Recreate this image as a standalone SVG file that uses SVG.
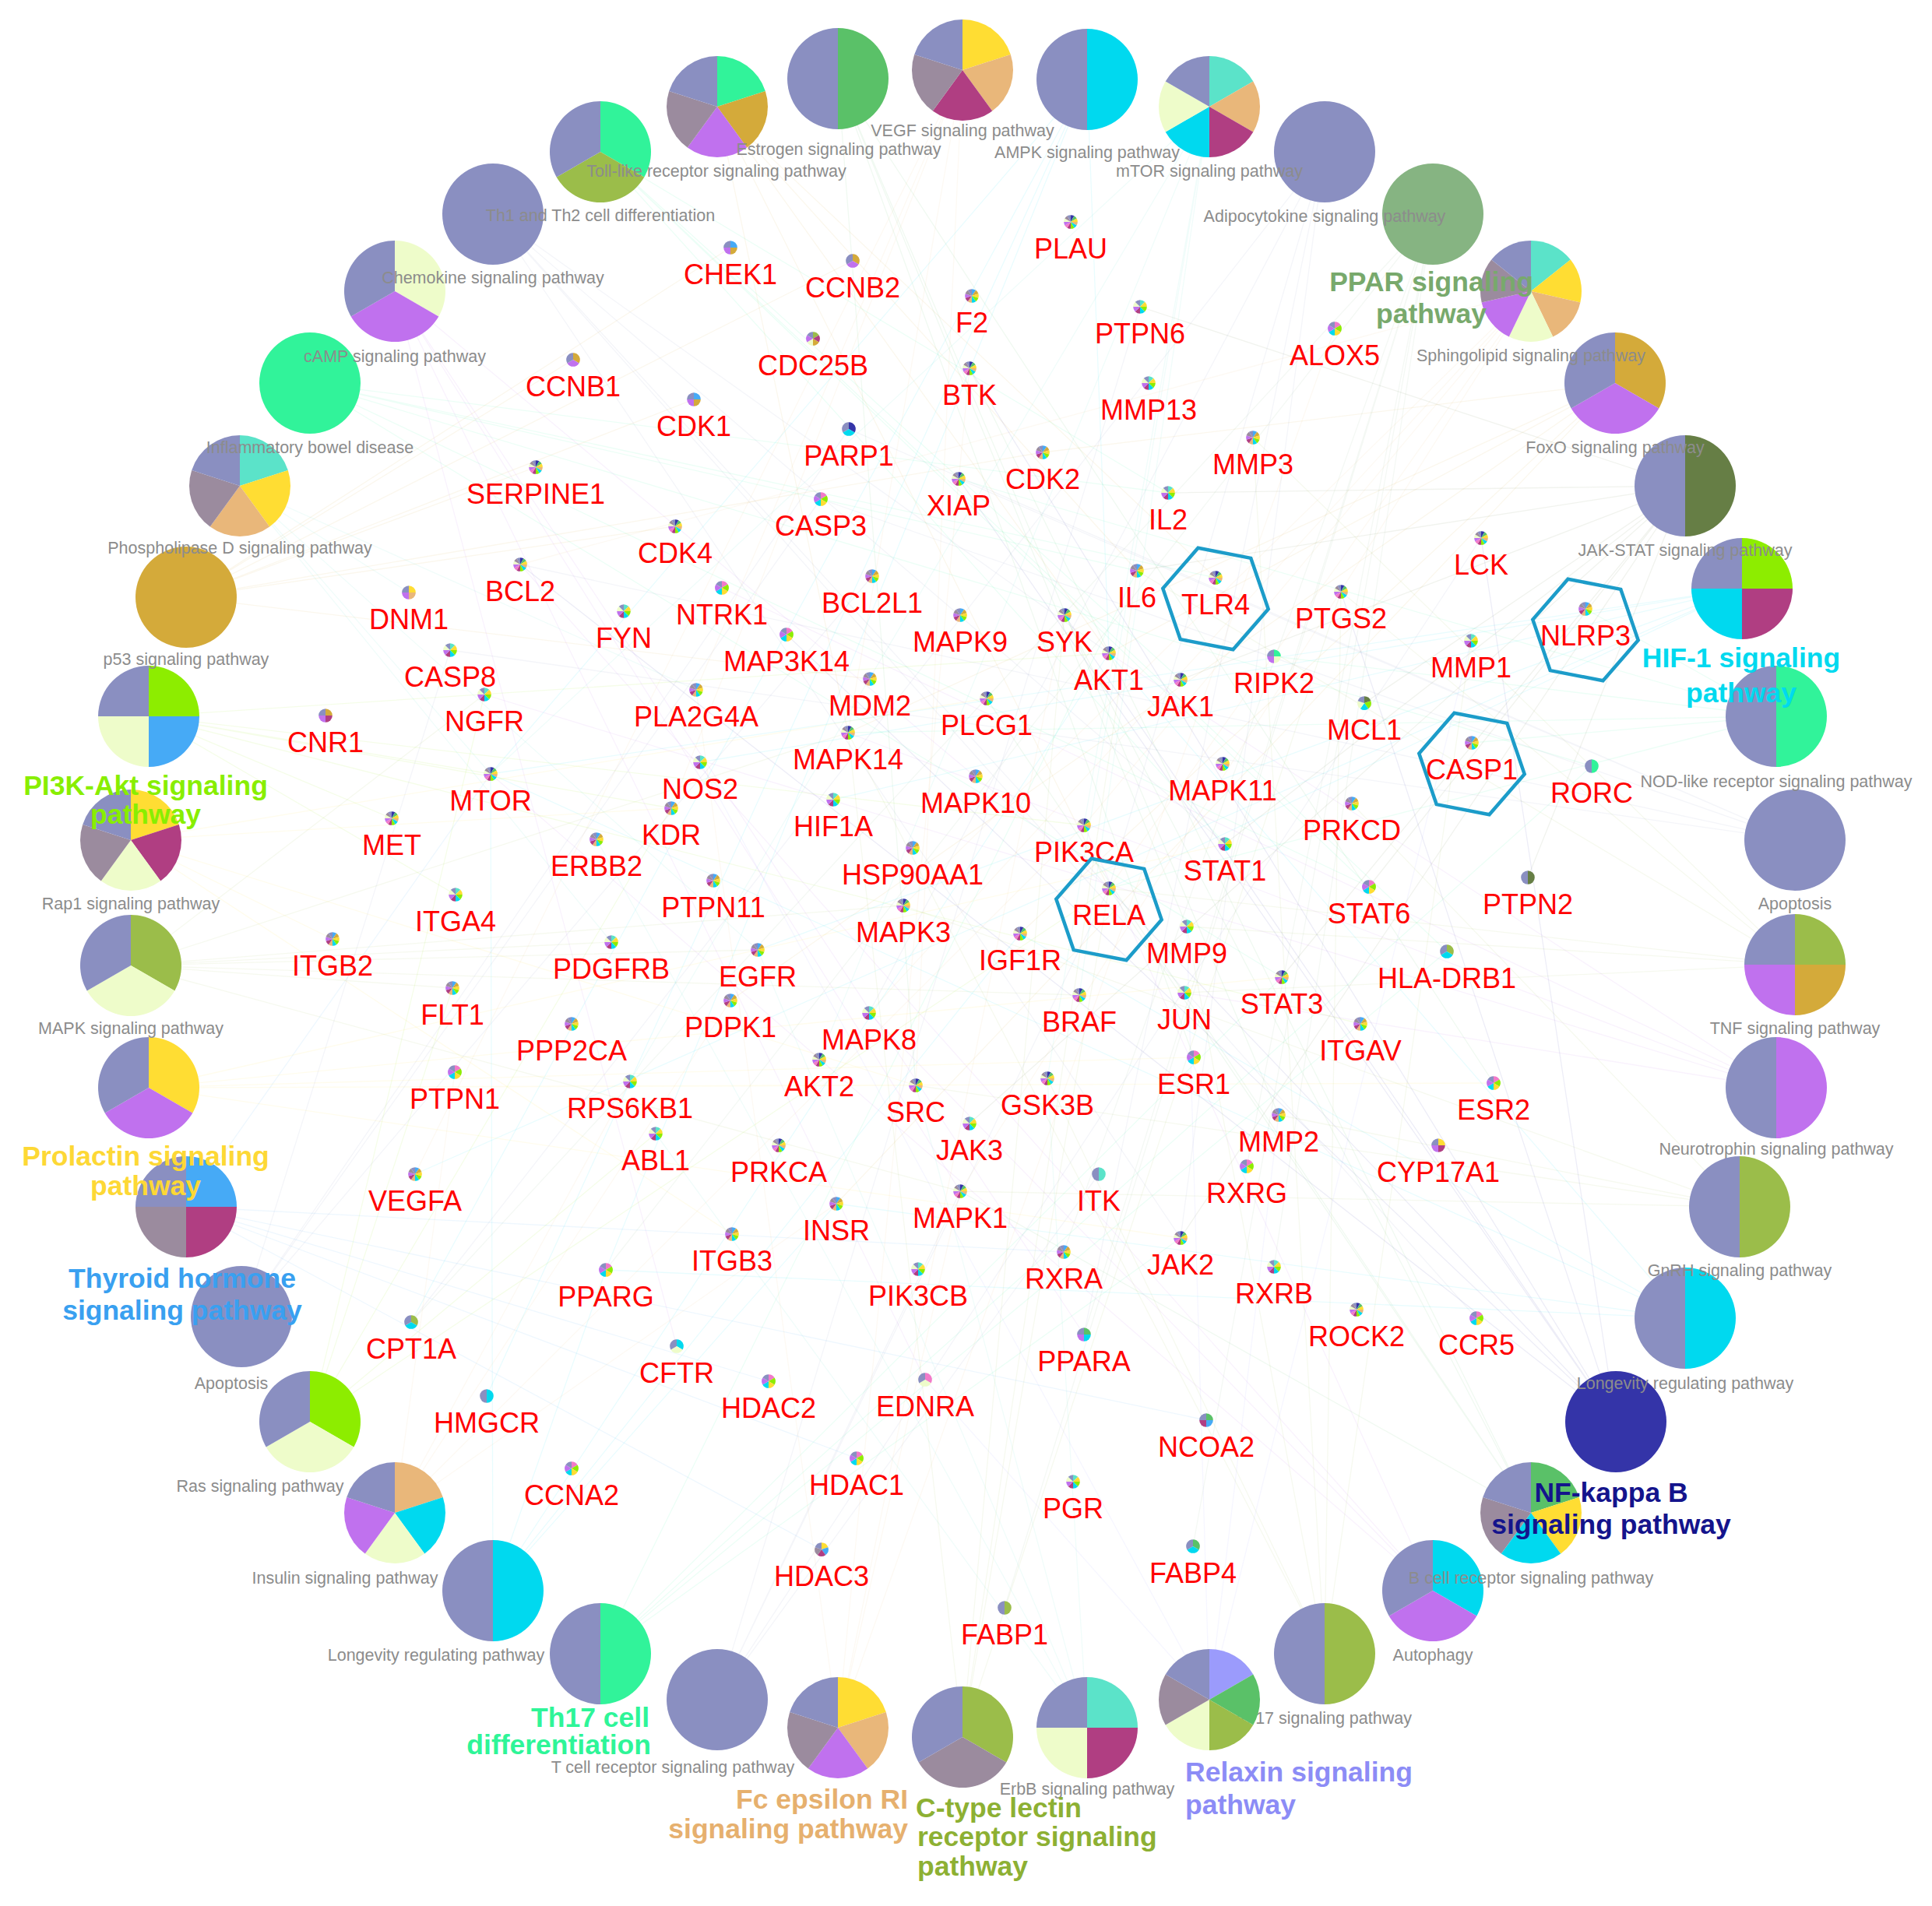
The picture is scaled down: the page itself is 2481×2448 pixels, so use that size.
<svg xmlns="http://www.w3.org/2000/svg" width="2481" height="2448" viewBox="0 0 2481 2448">
<style>
.B{fill:#8a8fc1}.G{fill:#31f39a}.Go{fill:#d4aa3a}.Pu{fill:#c071ee}.Mv{fill:#9b8b9e}.Ye{fill:#ffdd33}.Ta{fill:#e9b77a}.Mg{fill:#b03e82}.Ly{fill:#eefcca}.Te{fill:#5be3c9}.Cy{fill:#00d9ef}.Li{fill:#8ded00}.Ol{fill:#9bbd4a}.Do{fill:#667e45}.Lb{fill:#46aaf6}.Nv{fill:#3434a8}.Pg{fill:#86b482}.Gn{fill:#5ac168}.Lv{fill:#9b9bfc}.Pk{fill:#f27ac9}
.e{fill:none;stroke-width:1.3;stroke-opacity:.09}
.gl{font-family:"Liberation Sans",Arial,sans-serif;font-size:36px;fill:#ff0000;text-anchor:middle}
.pl{font-family:"Liberation Sans",Arial,sans-serif;font-size:21.5px;fill:#8c8c8c;text-anchor:middle}
.bl{font-family:"Liberation Sans",Arial,sans-serif;font-size:35.5px;font-weight:bold}
.hx{fill:none;stroke:#1c9cc9;stroke-width:4.5}
</style>
<defs>
<path id="s2_0" d="M0 0V-65A65 65 0 0 1 0 65Z"/>
<path id="s2_1" d="M0 0V65A65 65 0 0 1 0 -65Z"/>
<path id="s3_0" d="M0 0V-65A65 65 0 0 1 56.29 32.5Z"/>
<path id="s3_1" d="M0 0L56.29 32.5A65 65 0 0 1 -56.29 32.5Z"/>
<path id="s3_2" d="M0 0L-56.29 32.5A65 65 0 0 1 0 -65Z"/>
<path id="s4_0" d="M0 0V-65A65 65 0 0 1 65 0Z"/>
<path id="s4_1" d="M0 0H65A65 65 0 0 1 0 65Z"/>
<path id="s4_2" d="M0 0V65A65 65 0 0 1 -65 0Z"/>
<path id="s4_3" d="M0 0H-65A65 65 0 0 1 0 -65Z"/>
<path id="s5_0" d="M0 0V-65A65 65 0 0 1 61.82 -20.09Z"/>
<path id="s5_1" d="M0 0L61.82 -20.09A65 65 0 0 1 38.21 52.59Z"/>
<path id="s5_2" d="M0 0L38.21 52.59A65 65 0 0 1 -38.21 52.59Z"/>
<path id="s5_3" d="M0 0L-38.21 52.59A65 65 0 0 1 -61.82 -20.09Z"/>
<path id="s5_4" d="M0 0L-61.82 -20.09A65 65 0 0 1 0 -65Z"/>
<path id="s6_0" d="M0 0V-65A65 65 0 0 1 56.29 -32.5Z"/>
<path id="s6_1" d="M0 0L56.29 -32.5A65 65 0 0 1 56.29 32.5Z"/>
<path id="s6_2" d="M0 0L56.29 32.5A65 65 0 0 1 0 65Z"/>
<path id="s6_3" d="M0 0V65A65 65 0 0 1 -56.29 32.5Z"/>
<path id="s6_4" d="M0 0L-56.29 32.5A65 65 0 0 1 -56.29 -32.5Z"/>
<path id="s6_5" d="M0 0L-56.29 -32.5A65 65 0 0 1 0 -65Z"/>
<path id="s7_0" d="M0 0V-65A65 65 0 0 1 50.82 -40.53Z"/>
<path id="s7_1" d="M0 0L50.82 -40.53A65 65 0 0 1 63.37 14.46Z"/>
<path id="s7_2" d="M0 0L63.37 14.46A65 65 0 0 1 28.2 58.56Z"/>
<path id="s7_3" d="M0 0L28.2 58.56A65 65 0 0 1 -28.2 58.56Z"/>
<path id="s7_4" d="M0 0L-28.2 58.56A65 65 0 0 1 -63.37 14.46Z"/>
<path id="s7_5" d="M0 0L-63.37 14.46A65 65 0 0 1 -50.82 -40.53Z"/>
<path id="s7_6" d="M0 0L-50.82 -40.53A65 65 0 0 1 0 -65Z"/>
<path id="s8_0" d="M0 0V-65A65 65 0 0 1 45.96 -45.96Z"/>
<path id="s8_1" d="M0 0L45.96 -45.96A65 65 0 0 1 65 0Z"/>
<path id="s8_2" d="M0 0H65A65 65 0 0 1 45.96 45.96Z"/>
<path id="s8_3" d="M0 0L45.96 45.96A65 65 0 0 1 0 65Z"/>
<path id="s8_4" d="M0 0V65A65 65 0 0 1 -45.96 45.96Z"/>
<path id="s8_5" d="M0 0L-45.96 45.96A65 65 0 0 1 -65 0Z"/>
<path id="s8_6" d="M0 0H-65A65 65 0 0 1 -45.96 -45.96Z"/>
<path id="s8_7" d="M0 0L-45.96 -45.96A65 65 0 0 1 0 -65Z"/>
<path id="s10_0" d="M0 0V-65A65 65 0 0 1 38.21 -52.59Z"/>
<path id="s10_1" d="M0 0L38.21 -52.59A65 65 0 0 1 61.82 -20.09Z"/>
<path id="s10_2" d="M0 0L61.82 -20.09A65 65 0 0 1 61.82 20.09Z"/>
<path id="s10_3" d="M0 0L61.82 20.09A65 65 0 0 1 38.21 52.59Z"/>
<path id="s10_4" d="M0 0L38.21 52.59A65 65 0 0 1 0 65Z"/>
<path id="s10_5" d="M0 0V65A65 65 0 0 1 -38.21 52.59Z"/>
<path id="s10_6" d="M0 0L-38.21 52.59A65 65 0 0 1 -61.82 20.09Z"/>
<path id="s10_7" d="M0 0L-61.82 20.09A65 65 0 0 1 -61.82 -20.09Z"/>
<path id="s10_8" d="M0 0L-61.82 -20.09A65 65 0 0 1 -38.21 -52.59Z"/>
<path id="s10_9" d="M0 0L-38.21 -52.59A65 65 0 0 1 0 -65Z"/>
<path id="s12_0" d="M0 0V-65A65 65 0 0 1 32.5 -56.29Z"/>
<path id="s12_1" d="M0 0L32.5 -56.29A65 65 0 0 1 56.29 -32.5Z"/>
<path id="s12_2" d="M0 0L56.29 -32.5A65 65 0 0 1 65 0Z"/>
<path id="s12_3" d="M0 0H65A65 65 0 0 1 56.29 32.5Z"/>
<path id="s12_4" d="M0 0L56.29 32.5A65 65 0 0 1 32.5 56.29Z"/>
<path id="s12_5" d="M0 0L32.5 56.29A65 65 0 0 1 0 65Z"/>
<path id="s12_6" d="M0 0V65A65 65 0 0 1 -32.5 56.29Z"/>
<path id="s12_7" d="M0 0L-32.5 56.29A65 65 0 0 1 -56.29 32.5Z"/>
<path id="s12_8" d="M0 0L-56.29 32.5A65 65 0 0 1 -65 0Z"/>
<path id="s12_9" d="M0 0H-65A65 65 0 0 1 -56.29 -32.5Z"/>
<path id="s12_10" d="M0 0L-56.29 -32.5A65 65 0 0 1 -32.5 -56.29Z"/>
<path id="s12_11" d="M0 0L-32.5 -56.29A65 65 0 0 1 0 -65Z"/>
<polygon id="hex" points="67.7,13.2 22.5,65.2 -45.3,52.1 -67.7,-13.2 -22.5,-65.2 45.3,-52.1"/>
<g id="mA" transform="scale(.136)"><use href="#s10_0" class="Lb"/><use href="#s10_1" class="Go"/><use href="#s10_2" class="Ye"/><use href="#s10_3" class="Li"/><use href="#s10_4" class="Cy"/><use href="#s10_5" class="Ta"/><use href="#s10_6" class="Mg"/><use href="#s10_7" class="Pu"/><use href="#s10_8" class="Mv"/><use href="#s10_9" class="B"/></g>
<g id="mB" transform="scale(.136)"><use href="#s8_0" class="Te"/><use href="#s8_1" class="Ye"/><use href="#s8_2" class="Li"/><use href="#s8_3" class="Cy"/><use href="#s8_4" class="Mg"/><use href="#s8_5" class="Pu"/><use href="#s8_6" class="Ly"/><use href="#s8_7" class="B"/></g>
<g id="mC" transform="scale(.136)"><use href="#s12_0" class="Nv"/><use href="#s12_1" class="Gn"/><use href="#s12_2" class="Ye"/><use href="#s12_3" class="Ta"/><use href="#s12_4" class="Cy"/><use href="#s12_5" class="Li"/><use href="#s12_6" class="Mg"/><use href="#s12_7" class="Pk"/><use href="#s12_8" class="Pu"/><use href="#s12_9" class="Ly"/><use href="#s12_10" class="Mv"/><use href="#s12_11" class="B"/></g>
<g id="mD" transform="scale(.136)"><use href="#s6_0" class="Pk"/><use href="#s6_1" class="Li"/><use href="#s6_2" class="Ye"/><use href="#s6_3" class="Cy"/><use href="#s6_4" class="Pu"/><use href="#s6_5" class="B"/></g>
<g id="m4a" transform="scale(.136)"><use href="#s4_0" class="Lb"/><use href="#s4_1" class="Go"/><use href="#s4_2" class="Pu"/><use href="#s4_3" class="B"/></g>
<g id="m3a" transform="scale(.136)"><use href="#s3_0" class="Go"/><use href="#s3_1" class="Pu"/><use href="#s3_2" class="B"/></g>
<g id="m3n" transform="scale(.136)"><use href="#s3_0" class="Nv"/><use href="#s3_1" class="Cy"/><use href="#s3_2" class="B"/></g>
<g id="m2d" transform="scale(.136)"><use href="#s2_0" class="Do"/><use href="#s2_1" class="B"/></g>
<g id="m2g" transform="scale(.136)"><use href="#s2_0" class="G"/><use href="#s2_1" class="B"/></g>
<g id="m2t" transform="scale(.136)"><use href="#s2_0" class="Te"/><use href="#s2_1" class="B"/></g>
<g id="m2c" transform="scale(.136)"><use href="#s2_0" class="Cy"/><use href="#s2_1" class="B"/></g>
<g id="m2o" transform="scale(.136)"><use href="#s2_0" class="Ol"/><use href="#s2_1" class="B"/></g>
<g id="m3c" transform="scale(.136)"><use href="#s3_0" class="Ol"/><use href="#s3_1" class="Cy"/><use href="#s3_2" class="B"/></g>
<g id="m3f" transform="scale(.136)"><use href="#s3_0" class="Cy"/><use href="#s3_1" class="Ly"/><use href="#s3_2" class="B"/></g>
<g id="m3g" transform="scale(.136)"><use href="#s3_0" class="Gn"/><use href="#s3_1" class="Cy"/><use href="#s3_2" class="B"/></g>
<g id="m3e" transform="scale(.136)"><use href="#s3_0" class="Pk"/><use href="#s3_1" class="Ly"/><use href="#s3_2" class="B"/></g>
<g id="m4d" transform="scale(.136)"><use href="#s4_0" class="Ye"/><use href="#s4_1" class="Ta"/><use href="#s4_2" class="Pu"/><use href="#s4_3" class="B"/></g>
<g id="m4r" transform="scale(.136)"><use href="#s4_0" class="G"/><use href="#s4_1" class="Ly"/><use href="#s4_2" class="Pu"/><use href="#s4_3" class="B"/></g>
<g id="m4y" transform="scale(.136)"><use href="#s4_0" class="Ye"/><use href="#s4_1" class="Mg"/><use href="#s4_2" class="Pu"/><use href="#s4_3" class="B"/></g>
<g id="m4n" transform="scale(.136)"><use href="#s4_0" class="Go"/><use href="#s4_1" class="Mg"/><use href="#s4_2" class="Pu"/><use href="#s4_3" class="B"/></g>
<g id="mP" transform="scale(.136)"><use href="#s4_0" class="Gn"/><use href="#s4_1" class="Cy"/><use href="#s4_2" class="Pu"/><use href="#s4_3" class="B"/></g>
<g id="mQ" transform="scale(.136)"><use href="#s4_0" class="Gn"/><use href="#s4_1" class="Lb"/><use href="#s4_2" class="Mg"/><use href="#s4_3" class="B"/></g>
<g id="m5m" transform="scale(.136)"><use href="#s5_0" class="Do"/><use href="#s5_1" class="Li"/><use href="#s5_2" class="Cy"/><use href="#s5_3" class="Ly"/><use href="#s5_4" class="B"/></g>
<g id="mH" transform="scale(.136)"><use href="#s5_0" class="Ye"/><use href="#s5_1" class="Lb"/><use href="#s5_2" class="Mg"/><use href="#s5_3" class="Mv"/><use href="#s5_4" class="B"/></g>
<g id="m6c" transform="scale(.136)"><use href="#s6_0" class="Ol"/><use href="#s6_1" class="Mg"/><use href="#s6_2" class="Go"/><use href="#s6_3" class="Ly"/><use href="#s6_4" class="Pu"/><use href="#s6_5" class="B"/></g>
</defs>
<rect width="2481" height="2448" fill="#ffffff"/>
<g id="connectors">
<path class="e" stroke="#8a8fc1" d="M633 275L1424 839M633 275L1424 1141M633 275L1516 1590M633 275L1896 1693M633 275L1573 1084"/>
<path class="e" stroke="#31f39a" d="M771 195L1516 873M771 195L1573 1084M771 195L1500 633M771 195L1858 1222M771 195L1758 1139"/>
<path class="e" stroke="#d4aa3a" d="M921 137L1561 742M921 137L1460 733M921 137L1424 1141M921 137L1089 941M921 137L1424 839"/>
<path class="e" stroke="#5ac168" d="M1076 101L1533 1358M1076 101L1918 1391M1076 101L1176 1394M1076 101L1642 1432M1076 101L1524 1190"/>
<path class="e" stroke="#e9b77a" d="M1236 90L533 1508M1236 90L862 1038M1236 90L894 886M1236 90L1176 1394M1236 90L1089 941"/>
<path class="e" stroke="#00d9ef" d="M1396 102L630 994M1396 102L778 1631M1396 102L528 1698M1396 102L625 1793M1396 102L1424 839"/>
<path class="e" stroke="#5be3c9" d="M1553 137L630 994M1553 137L809 1389M1553 137L1386 1278M1553 137L1392 1060M1553 137L1052 1361M1553 137L1345 1385"/>
<path class="e" stroke="#8a8fc1" d="M1701 195L1392 1714M1701 195L528 1698M1701 195L1516 1590M1701 195L1424 1141M1701 195L1116 1301"/>
<path class="e" stroke="#86b482" d="M1840 275L778 1631M1840 275L1392 1714M1840 275L1366 1608M1840 275L1636 1627M1840 275L1601 1498M1840 275L1290 2065M1840 275L1532 1986M1840 275L528 1698"/>
<path class="e" stroke="#e9b77a" d="M1966 374L1160 1163M1966 374L1233 1530M1966 374L1392 1060M1966 374L1424 1141M1966 374L668 725M1966 374L1116 1301"/>
<path class="e" stroke="#d4aa3a" d="M2074 492L1424 839M2074 492L1339 581M2074 492L1089 941M2074 492L938 1285M2074 492L1310 1199M2074 492L1074 1546"/>
<path class="e" stroke="#667e45" d="M2164 624L1516 873M2164 624L1516 1590M2164 624L1245 1443M2164 624L1573 1084M2164 624L1646 1255M2164 624L1758 1139M2164 624L1460 733M2164 624L1500 633M2164 624L1962 1127M2164 624L1464 394M2164 624L1752 903"/>
<path class="e" stroke="#00d9ef" d="M2237 756L1070 1027M2237 756L533 1508M2237 756L973 1220M2237 756L630 994M2237 756L1424 1141M2237 756L899 979"/>
<path class="e" stroke="#31f39a" d="M2281 920L2036 782M2281 920L1890 954M2281 920L1636 843M2281 920L1424 1141M2281 920L1231 615M2281 920L1089 941"/>
<path class="e" stroke="#8a8fc1" d="M2305 1079L1054 641M2305 1079L578 835M2305 1079L668 725M2305 1079L1231 615M2305 1079L1090 551"/>
<path class="e" stroke="#9bbd4a" d="M2305 1239L1722 760M2305 1239L1524 1190M2305 1239L1609 562M2305 1239L1424 1141M2305 1239L1521 1275M2305 1239L1460 733"/>
<path class="e" stroke="#c071ee" d="M2281 1397L622 892M2281 1397L927 755M2281 1397L1089 941M2281 1397L1424 839M2281 1397L1521 1275"/>
<path class="e" stroke="#9bbd4a" d="M2234 1550L1176 1394M2234 1550L1642 1432M2234 1550L1160 1163M2234 1550L1736 1032M2234 1550L1233 1530"/>
<path class="e" stroke="#00d9ef" d="M2164 1693L1424 839M2164 1693L630 994M2164 1693L1310 1199M2164 1693L1074 1546M2164 1693L778 1631"/>
<path class="e" stroke="#3434a8" d="M2075 1826L1424 1141M2075 1826L668 725M2075 1826L1722 760M2075 1826L1231 615M2075 1826L1902 691M2075 1826L1367 790M2075 1826L1245 473M2075 1826L1010 815"/>
<path class="e" stroke="#5ac168" d="M1966 1943L1245 473M1966 1943L1367 790M1966 1943L1424 1141M1966 1943L1233 1530M1966 1943L1267 897"/>
<path class="e" stroke="#c071ee" d="M1840 2043L630 994M1840 2043L668 725M1840 2043L1392 1060M1840 2043L1116 1301"/>
<path class="e" stroke="#9bbd4a" d="M1701 2124L1609 562M1701 2124L1889 823M1701 2124L1524 1190M1701 2124L1722 760M1701 2124L1345 1385M1701 2124L1089 941"/>
<path class="e" stroke="#9b9bfc" d="M1553 2183L1889 823M1553 2183L1642 1432M1553 2183L1524 1190M1553 2183L899 979M1553 2183L1188 1772"/>
<path class="e" stroke="#5be3c9" d="M1396 2219L766 1078M1396 2219L973 1220M1396 2219L1176 1394M1396 2219L842 1456M1396 2219L1345 1385"/>
<path class="e" stroke="#9bbd4a" d="M1236 2231L1367 790M1236 2231L1424 1141M1236 2231L1460 733M1236 2231L1722 760M1236 2231L1089 941"/>
<path class="e" stroke="#e9b77a" d="M1076 2219L1367 790M1076 2219L1245 473M1076 2219L894 886M1076 2219L1714 422M1076 2219L1233 1530"/>
<path class="e" stroke="#8a8fc1" d="M921 2183L1902 691M921 2183L1411 1508M921 2183L1233 1530M921 2183L1424 1141M921 2183L1464 394"/>
<path class="e" stroke="#31f39a" d="M771 2124L2044 984M771 2124L1516 1590M771 2124L1646 1255M771 2124L1460 733M771 2124L1858 1222"/>
<path class="e" stroke="#00d9ef" d="M633 2043L630 994M633 2043L1310 1199M633 2043L1074 1546M633 2043L1424 839M633 2043L778 1631"/>
<path class="e" stroke="#e9b77a" d="M507 1943L1074 1546M507 1943L584 1377M507 1943L938 1285M507 1943L809 1389M507 1943L1392 1060"/>
<path class="e" stroke="#8ded00" d="M398 1826L862 1038M398 1826L581 1269M398 1826L622 892M398 1826L1424 1141M398 1826L842 1456"/>
<path class="e" stroke="#8a8fc1" d="M310 1691L1054 641M310 1691L578 835M310 1691L1120 740M310 1691L1090 551"/>
<path class="e" stroke="#46aaf6" d="M239 1550L1100 1873M239 1550L987 1774M239 1550L1055 1990M239 1550L1549 1824M239 1550L1366 1608M239 1550L630 994"/>
<path class="e" stroke="#ffdd33" d="M191 1397L1516 1590M191 1397L1573 1084M191 1397L1646 1255M191 1397L1533 1358M191 1397L1918 1391M191 1397L1176 1394"/>
<path class="e" stroke="#9bbd4a" d="M168 1240L1386 1278M168 1240L1233 1530M168 1240L1160 1163M168 1240L1089 941M168 1240L622 892M168 1240L973 1220M168 1240L785 1210M168 1240L581 1269"/>
<path class="e" stroke="#ffdd33" d="M168 1079L862 1038M168 1079L940 1585M168 1079L427 1206M168 1079L1267 897M168 1079L1176 1394"/>
<path class="e" stroke="#8ded00" d="M191 920L1424 839M191 920L1392 1060M191 920L630 994M191 920L862 1038M191 920L585 1149M191 920L1747 1315M191 920L503 1051"/>
<path class="e" stroke="#d4aa3a" d="M239 767L938 318M239 767L891 513M239 767L736 462M239 767L1095 335M239 767L1339 581M239 767L867 676M239 767L1117 872M239 767L688 600"/>
<path class="e" stroke="#5be3c9" d="M308 624L894 886M308 624L525 761M308 624L630 994M308 624L785 1210M308 624L973 1220"/>
<path class="e" stroke="#31f39a" d="M398 492L1500 633M398 492L1460 733M398 492L1561 742M398 492L2044 984M398 492L1646 1255M398 492L1758 1139"/>
<path class="e" stroke="#c071ee" d="M507 374L869 1729M507 374L1188 1772M507 374L1392 1714M507 374L1233 1530M507 374L1424 1141"/>
</g>
<g id="pathways">
<g id="p-apoptosis-l"><circle cx="310" cy="1691" r="65" class="B"/><text class="pl" x="297" y="1784">Apoptosis</text></g>
<g id="p-thyroid"><g transform="translate(239 1550)"><use href="#s4_0" class="Lb"/><use href="#s4_1" class="Mg"/><use href="#s4_2" class="Mv"/><use href="#s4_3" class="B"/></g><text class="bl" fill="#39a0f0" text-anchor="middle" x="234" y="1654">Thyroid hormone</text><text class="bl" fill="#39a0f0" text-anchor="middle" x="234" y="1695">signaling pathway</text></g>
<g id="p-prolactin"><g transform="translate(191 1397)"><use href="#s3_0" class="Ye"/><use href="#s3_1" class="Pu"/><use href="#s3_2" class="B"/></g><text class="bl" fill="#fdd835" text-anchor="middle" x="187" y="1497">Prolactin signaling</text><text class="bl" fill="#fdd835" text-anchor="middle" x="187" y="1535">pathway</text></g>
<g id="p-mapk"><g transform="translate(168 1240)"><use href="#s3_0" class="Ol"/><use href="#s3_1" class="Ly"/><use href="#s3_2" class="B"/></g><text class="pl" x="168" y="1328">MAPK signaling pathway</text></g>
<g id="p-rap1"><g transform="translate(168 1079)"><use href="#s5_0" class="Ye"/><use href="#s5_1" class="Mg"/><use href="#s5_2" class="Ly"/><use href="#s5_3" class="Mv"/><use href="#s5_4" class="B"/></g><text class="pl" x="168" y="1168">Rap1 signaling pathway</text></g>
<g id="p-pi3k"><g transform="translate(191 920)"><use href="#s4_0" class="Li"/><use href="#s4_1" class="Lb"/><use href="#s4_2" class="Ly"/><use href="#s4_3" class="B"/></g><text class="bl" fill="#88ee00" text-anchor="middle" x="187" y="1021">PI3K-Akt signaling</text><text class="bl" fill="#88ee00" text-anchor="middle" x="187" y="1058">pathway</text></g>
<g id="p-p53"><circle cx="239" cy="767" r="65" class="Go"/><text class="pl" x="239" y="854">p53 signaling pathway</text></g>
<g id="p-pld"><g transform="translate(308 624)"><use href="#s5_0" class="Te"/><use href="#s5_1" class="Ye"/><use href="#s5_2" class="Ta"/><use href="#s5_3" class="Mv"/><use href="#s5_4" class="B"/></g><text class="pl" x="308" y="711">Phospholipase D signaling pathway</text></g>
<g id="p-ibd"><circle cx="398" cy="492" r="65" class="G"/><text class="pl" x="398" y="582">Inflammatory bowel disease</text></g>
<g id="p-camp"><g transform="translate(507 374)"><use href="#s3_0" class="Ly"/><use href="#s3_1" class="Pu"/><use href="#s3_2" class="B"/></g><text class="pl" x="507" y="465">cAMP signaling pathway</text></g>
<g id="p-chemokine"><circle cx="633" cy="275" r="65" class="B"/><text class="pl" x="633" y="364">Chemokine signaling pathway</text></g>
<g id="p-th1th2"><g transform="translate(771 195)"><use href="#s3_0" class="G"/><use href="#s3_1" class="Ol"/><use href="#s3_2" class="B"/></g><text class="pl" x="771" y="284">Th1 and Th2 cell differentiation</text></g>
<g id="p-toll"><g transform="translate(921 137)"><use href="#s5_0" class="G"/><use href="#s5_1" class="Go"/><use href="#s5_2" class="Pu"/><use href="#s5_3" class="Mv"/><use href="#s5_4" class="B"/></g><text class="pl" x="920" y="227">Toll-like receptor signaling pathway</text></g>
<g id="p-estrogen"><g transform="translate(1076 101)"><use href="#s2_0" class="Gn"/><use href="#s2_1" class="B"/></g><text class="pl" x="1077" y="199">Estrogen signaling pathway</text></g>
<g id="p-vegf"><g transform="translate(1236 90)"><use href="#s5_0" class="Ye"/><use href="#s5_1" class="Ta"/><use href="#s5_2" class="Mg"/><use href="#s5_3" class="Mv"/><use href="#s5_4" class="B"/></g><text class="pl" x="1236" y="175">VEGF signaling pathway</text></g>
<g id="p-apoptosis-r"><circle cx="2305" cy="1079" r="65" class="B"/><text class="pl" x="2305" y="1168">Apoptosis</text></g>
<g id="p-nod"><g transform="translate(2281 920)"><use href="#s2_0" class="G"/><use href="#s2_1" class="B"/></g><text class="pl" x="2281" y="1011">NOD-like receptor signaling pathway</text></g>
<g id="p-hif1"><g transform="translate(2237 756)"><use href="#s4_0" class="Li"/><use href="#s4_1" class="Mg"/><use href="#s4_2" class="Cy"/><use href="#s4_3" class="B"/></g><text class="bl" fill="#00d9ef" text-anchor="middle" x="2236" y="857">HIF-1 signaling</text><text class="bl" fill="#00d9ef" text-anchor="middle" x="2236" y="902">pathway</text></g>
<g id="p-jakstat"><g transform="translate(2164 624)"><use href="#s2_0" class="Do"/><use href="#s2_1" class="B"/></g><text class="pl" x="2164" y="714">JAK-STAT signaling pathway</text></g>
<g id="p-foxo"><g transform="translate(2074 492)"><use href="#s3_0" class="Go"/><use href="#s3_1" class="Pu"/><use href="#s3_2" class="B"/></g><text class="pl" x="2074" y="582">FoxO signaling pathway</text></g>
<g id="p-sphingolipid"><g transform="translate(1966 374)"><use href="#s7_0" class="Te"/><use href="#s7_1" class="Ye"/><use href="#s7_2" class="Ta"/><use href="#s7_3" class="Ly"/><use href="#s7_4" class="Pu"/><use href="#s7_5" class="Mv"/><use href="#s7_6" class="B"/></g><text class="pl" x="1966" y="464">Sphingolipid signaling pathway</text></g>
<g id="p-ppar"><circle cx="1840" cy="275" r="65" class="Pg"/><text class="bl" fill="#78a96c" text-anchor="middle" x="1838" y="374">PPAR signaling</text><text class="bl" fill="#78a96c" text-anchor="middle" x="1838" y="415">pathway</text></g>
<g id="p-adipocytokine"><circle cx="1701" cy="195" r="65" class="B"/><text class="pl" x="1701" y="285">Adipocytokine signaling pathway</text></g>
<g id="p-mtor"><g transform="translate(1553 137)"><use href="#s6_0" class="Te"/><use href="#s6_1" class="Ta"/><use href="#s6_2" class="Mg"/><use href="#s6_3" class="Cy"/><use href="#s6_4" class="Ly"/><use href="#s6_5" class="B"/></g><text class="pl" x="1553" y="227">mTOR signaling pathway</text></g>
<g id="p-ampk"><g transform="translate(1396 102)"><use href="#s2_0" class="Cy"/><use href="#s2_1" class="B"/></g><text class="pl" x="1396" y="203">AMPK signaling pathway</text></g>
<g id="p-tnf"><g transform="translate(2305 1239)"><use href="#s4_0" class="Ol"/><use href="#s4_1" class="Go"/><use href="#s4_2" class="Pu"/><use href="#s4_3" class="B"/></g><text class="pl" x="2305" y="1328">TNF signaling pathway</text></g>
<g id="p-neurotrophin"><g transform="translate(2281 1397)"><use href="#s2_0" class="Pu"/><use href="#s2_1" class="B"/></g><text class="pl" x="2281" y="1483">Neurotrophin signaling pathway</text></g>
<g id="p-autophagy"><g transform="translate(1840 2043)"><use href="#s3_0" class="Cy"/><use href="#s3_1" class="Pu"/><use href="#s3_2" class="B"/></g><text class="pl" x="1840" y="2133">Autophagy</text></g>
<g id="p-bcell"><g transform="translate(1966 1943)"><use href="#s5_0" class="Gn"/><use href="#s5_1" class="Ye"/><use href="#s5_2" class="Cy"/><use href="#s5_3" class="Mv"/><use href="#s5_4" class="B"/></g><text class="pl" x="1966" y="2034">B cell receptor signaling pathway</text></g>
<g id="p-nfkb"><circle cx="2075" cy="1826" r="65" class="Nv"/><text class="bl" fill="#14148c" text-anchor="middle" x="2069" y="1929">NF-kappa B</text><text class="bl" fill="#14148c" text-anchor="middle" x="2069" y="1970">signaling pathway</text></g>
<g id="p-longevity-r"><g transform="translate(2164 1693)"><use href="#s2_0" class="Cy"/><use href="#s2_1" class="B"/></g><text class="pl" x="2164" y="1784">Longevity regulating pathway</text></g>
<g id="p-gnrh"><g transform="translate(2234 1550)"><use href="#s2_0" class="Ol"/><use href="#s2_1" class="B"/></g><text class="pl" x="2234" y="1639">GnRH signaling pathway</text></g>
<g id="p-il17"><g transform="translate(1701 2124)"><use href="#s2_0" class="Ol"/><use href="#s2_1" class="B"/></g><text class="pl" x="1700" y="2214">IL-17 signaling pathway</text></g>
<g id="p-relaxin"><g transform="translate(1553 2183)"><use href="#s6_0" class="Lv"/><use href="#s6_1" class="Gn"/><use href="#s6_2" class="Ol"/><use href="#s6_3" class="Ly"/><use href="#s6_4" class="Mv"/><use href="#s6_5" class="B"/></g><text class="bl" fill="#8c8cf6" x="1522" y="2288">Relaxin signaling</text><text class="bl" fill="#8c8cf6" x="1522" y="2330">pathway</text></g>
<g id="p-erbb"><g transform="translate(1396 2219)"><use href="#s4_0" class="Te"/><use href="#s4_1" class="Mg"/><use href="#s4_2" class="Ly"/><use href="#s4_3" class="B"/></g><text class="pl" x="1396" y="2305">ErbB signaling pathway</text></g>
<g id="p-ctype"><g transform="translate(1236 2231)"><use href="#s3_0" class="Ol"/><use href="#s3_1" class="Mv"/><use href="#s3_2" class="B"/></g><text class="bl" fill="#8db033" x="1176" y="2334">C-type lectin</text><text class="bl" fill="#8db033" x="1178" y="2371">receptor signaling</text><text class="bl" fill="#8db033" x="1178" y="2409">pathway</text></g>
<g id="p-fc"><g transform="translate(1076 2219)"><use href="#s5_0" class="Ye"/><use href="#s5_1" class="Ta"/><use href="#s5_2" class="Pu"/><use href="#s5_3" class="Mv"/><use href="#s5_4" class="B"/></g><text class="bl" fill="#e6b06e" text-anchor="end" x="1166" y="2323">Fc epsilon RI</text><text class="bl" fill="#e6b06e" text-anchor="end" x="1166" y="2361">signaling pathway</text></g>
<g id="p-tcell"><circle cx="921" cy="2183" r="65" class="B"/><text class="pl" x="864" y="2277">T cell receptor signaling pathway</text></g>
<g id="p-th17"><g transform="translate(771 2124)"><use href="#s2_0" class="G"/><use href="#s2_1" class="B"/></g><text class="bl" fill="#2ef598" text-anchor="end" x="834" y="2218">Th17 cell</text><text class="bl" fill="#2ef598" text-anchor="end" x="836" y="2253">differentiation</text></g>
<g id="p-longevity-l"><g transform="translate(633 2043)"><use href="#s2_0" class="Cy"/><use href="#s2_1" class="B"/></g><text class="pl" x="560" y="2133">Longevity regulating pathway</text></g>
<g id="p-insulin"><g transform="translate(507 1943)"><use href="#s5_0" class="Ta"/><use href="#s5_1" class="Cy"/><use href="#s5_2" class="Ly"/><use href="#s5_3" class="Pu"/><use href="#s5_4" class="B"/></g><text class="pl" x="443" y="2034">Insulin signaling pathway</text></g>
<g id="p-ras"><g transform="translate(398 1826)"><use href="#s3_0" class="Li"/><use href="#s3_1" class="Ly"/><use href="#s3_2" class="B"/></g><text class="pl" x="334" y="1916">Ras signaling pathway</text></g>
</g>
<g id="genes">
<g id="n-PLAU"><use href="#mC" x="1375" y="285"/><text class="gl" x="1375" y="332">PLAU</text></g>
<g id="n-CHEK1"><use href="#m4a" x="938" y="318"/><text class="gl" x="938" y="365">CHEK1</text></g>
<g id="n-CCNB2"><use href="#m3a" x="1095" y="335"/><text class="gl" x="1095" y="382">CCNB2</text></g>
<g id="n-F2"><use href="#mA" x="1248" y="380"/><text class="gl" x="1248" y="427">F2</text></g>
<g id="n-PTPN6"><use href="#mB" x="1464" y="394"/><text class="gl" x="1464" y="441">PTPN6</text></g>
<g id="n-ALOX5"><use href="#mD" x="1714" y="422"/><text class="gl" x="1714" y="469">ALOX5</text></g>
<g id="n-CDC25B"><use href="#m6c" x="1044" y="435"/><text class="gl" x="1044" y="482">CDC25B</text></g>
<g id="n-CCNB1"><use href="#m3a" x="736" y="462"/><text class="gl" x="736" y="509">CCNB1</text></g>
<g id="n-BTK"><use href="#mC" x="1245" y="473"/><text class="gl" x="1245" y="520">BTK</text></g>
<g id="n-MMP13"><use href="#mB" x="1475" y="492"/><text class="gl" x="1475" y="539">MMP13</text></g>
<g id="n-CDK1"><use href="#m4a" x="891" y="513"/><text class="gl" x="891" y="560">CDK1</text></g>
<g id="n-PARP1"><use href="#m3n" x="1090" y="551"/><text class="gl" x="1090" y="598">PARP1</text></g>
<g id="n-MMP3"><use href="#mA" x="1609" y="562"/><text class="gl" x="1609" y="609">MMP3</text></g>
<g id="n-SERPINE1"><use href="#mC" x="688" y="600"/><text class="gl" x="688" y="647">SERPINE1</text></g>
<g id="n-XIAP"><use href="#mC" x="1231" y="615"/><text class="gl" x="1231" y="662">XIAP</text></g>
<g id="n-CDK2"><use href="#mA" x="1339" y="581"/><text class="gl" x="1339" y="628">CDK2</text></g>
<g id="n-CASP3"><use href="#mD" x="1054" y="641"/><text class="gl" x="1054" y="688">CASP3</text></g>
<g id="n-IL2"><use href="#mB" x="1500" y="633"/><text class="gl" x="1500" y="680">IL2</text></g>
<g id="n-CDK4"><use href="#mC" x="867" y="676"/><text class="gl" x="867" y="723">CDK4</text></g>
<g id="n-LCK"><use href="#mC" x="1902" y="691"/><text class="gl" x="1902" y="738">LCK</text></g>
<g id="n-BCL2"><use href="#mC" x="668" y="725"/><text class="gl" x="668" y="772">BCL2</text></g>
<g id="n-BCL2L1"><use href="#mA" x="1120" y="740"/><text class="gl" x="1120" y="787">BCL2L1</text></g>
<g id="n-IL6"><use href="#mA" x="1460" y="733"/><text class="gl" x="1460" y="780">IL6</text></g>
<g id="n-TLR4"><use href="#hex" class="hx" x="1561" y="769"/><use href="#mC" x="1561" y="742"/><text class="gl" x="1561" y="789">TLR4</text></g>
<g id="n-NTRK1"><use href="#mD" x="927" y="755"/><text class="gl" x="927" y="802">NTRK1</text></g>
<g id="n-DNM1"><use href="#m4d" x="525" y="761"/><text class="gl" x="525" y="808">DNM1</text></g>
<g id="n-PTGS2"><use href="#mC" x="1722" y="760"/><text class="gl" x="1722" y="807">PTGS2</text></g>
<g id="n-NLRP3"><use href="#hex" class="hx" x="2036" y="809"/><use href="#mA" x="2036" y="782"/><text class="gl" x="2036" y="829">NLRP3</text></g>
<g id="n-FYN"><use href="#mB" x="801" y="785"/><text class="gl" x="801" y="832">FYN</text></g>
<g id="n-MAPK9"><use href="#mA" x="1233" y="790"/><text class="gl" x="1233" y="837">MAPK9</text></g>
<g id="n-SYK"><use href="#mC" x="1367" y="790"/><text class="gl" x="1367" y="837">SYK</text></g>
<g id="n-MMP1"><use href="#mB" x="1889" y="823"/><text class="gl" x="1889" y="870">MMP1</text></g>
<g id="n-AKT1"><use href="#mC" x="1424" y="839"/><text class="gl" x="1424" y="886">AKT1</text></g>
<g id="n-RIPK2"><use href="#m4r" x="1636" y="843"/><text class="gl" x="1636" y="890">RIPK2</text></g>
<g id="n-MAP3K14"><use href="#mD" x="1010" y="815"/><text class="gl" x="1010" y="862">MAP3K14</text></g>
<g id="n-CASP8"><use href="#mB" x="578" y="835"/><text class="gl" x="578" y="882">CASP8</text></g>
<g id="n-MDM2"><use href="#mA" x="1117" y="872"/><text class="gl" x="1117" y="919">MDM2</text></g>
<g id="n-JAK1"><use href="#mC" x="1516" y="873"/><text class="gl" x="1516" y="920">JAK1</text></g>
<g id="n-NGFR"><use href="#mB" x="622" y="892"/><text class="gl" x="622" y="939">NGFR</text></g>
<g id="n-PLA2G4A"><use href="#mA" x="894" y="886"/><text class="gl" x="894" y="933">PLA2G4A</text></g>
<g id="n-PLCG1"><use href="#mC" x="1267" y="897"/><text class="gl" x="1267" y="944">PLCG1</text></g>
<g id="n-MCL1"><use href="#m5m" x="1752" y="903"/><text class="gl" x="1752" y="950">MCL1</text></g>
<g id="n-CNR1"><use href="#m4n" x="418" y="919"/><text class="gl" x="418" y="966">CNR1</text></g>
<g id="n-MAPK14"><use href="#mC" x="1089" y="941"/><text class="gl" x="1089" y="988">MAPK14</text></g>
<g id="n-CASP1"><use href="#hex" class="hx" x="1890" y="981"/><use href="#mA" x="1890" y="954"/><text class="gl" x="1890" y="1001">CASP1</text></g>
<g id="n-NOS2"><use href="#mB" x="899" y="979"/><text class="gl" x="899" y="1026">NOS2</text></g>
<g id="n-MAPK11"><use href="#mC" x="1570" y="981"/><text class="gl" x="1570" y="1028">MAPK11</text></g>
<g id="n-RORC"><use href="#m2g" x="2044" y="984"/><text class="gl" x="2044" y="1031">RORC</text></g>
<g id="n-MTOR"><use href="#mC" x="630" y="994"/><text class="gl" x="630" y="1041">MTOR</text></g>
<g id="n-MAPK10"><use href="#mA" x="1253" y="997"/><text class="gl" x="1253" y="1044">MAPK10</text></g>
<g id="n-HIF1A"><use href="#mB" x="1070" y="1027"/><text class="gl" x="1070" y="1074">HIF1A</text></g>
<g id="n-KDR"><use href="#mA" x="862" y="1038"/><text class="gl" x="862" y="1085">KDR</text></g>
<g id="n-MET"><use href="#mC" x="503" y="1051"/><text class="gl" x="503" y="1098">MET</text></g>
<g id="n-PRKCD"><use href="#mA" x="1736" y="1032"/><text class="gl" x="1736" y="1079">PRKCD</text></g>
<g id="n-PIK3CA"><use href="#mC" x="1392" y="1060"/><text class="gl" x="1392" y="1107">PIK3CA</text></g>
<g id="n-ERBB2"><use href="#mA" x="766" y="1078"/><text class="gl" x="766" y="1125">ERBB2</text></g>
<g id="n-STAT1"><use href="#mB" x="1573" y="1084"/><text class="gl" x="1573" y="1131">STAT1</text></g>
<g id="n-HSP90AA1"><use href="#mA" x="1172" y="1089"/><text class="gl" x="1172" y="1136">HSP90AA1</text></g>
<g id="n-PTPN2"><use href="#m2d" x="1962" y="1127"/><text class="gl" x="1962" y="1174">PTPN2</text></g>
<g id="n-STAT6"><use href="#mD" x="1758" y="1139"/><text class="gl" x="1758" y="1186">STAT6</text></g>
<g id="n-RELA"><use href="#hex" class="hx" x="1424" y="1168"/><use href="#mC" x="1424" y="1141"/><text class="gl" x="1424" y="1188">RELA</text></g>
<g id="n-ITGA4"><use href="#mB" x="585" y="1149"/><text class="gl" x="585" y="1196">ITGA4</text></g>
<g id="n-PTPN11"><use href="#mA" x="916" y="1131"/><text class="gl" x="916" y="1178">PTPN11</text></g>
<g id="n-MAPK3"><use href="#mC" x="1160" y="1163"/><text class="gl" x="1160" y="1210">MAPK3</text></g>
<g id="n-MMP9"><use href="#mB" x="1524" y="1190"/><text class="gl" x="1524" y="1237">MMP9</text></g>
<g id="n-IGF1R"><use href="#mC" x="1310" y="1199"/><text class="gl" x="1310" y="1246">IGF1R</text></g>
<g id="n-ITGB2"><use href="#mA" x="427" y="1206"/><text class="gl" x="427" y="1253">ITGB2</text></g>
<g id="n-PDGFRB"><use href="#mB" x="785" y="1210"/><text class="gl" x="785" y="1257">PDGFRB</text></g>
<g id="n-EGFR"><use href="#mA" x="973" y="1220"/><text class="gl" x="973" y="1267">EGFR</text></g>
<g id="n-HLA-DRB1"><use href="#m3c" x="1858" y="1222"/><text class="gl" x="1858" y="1269">HLA-DRB1</text></g>
<g id="n-STAT3"><use href="#mC" x="1646" y="1255"/><text class="gl" x="1646" y="1302">STAT3</text></g>
<g id="n-FLT1"><use href="#mA" x="581" y="1269"/><text class="gl" x="581" y="1316">FLT1</text></g>
<g id="n-BRAF"><use href="#mC" x="1386" y="1278"/><text class="gl" x="1386" y="1325">BRAF</text></g>
<g id="n-JUN"><use href="#mB" x="1521" y="1275"/><text class="gl" x="1521" y="1322">JUN</text></g>
<g id="n-PDPK1"><use href="#mA" x="938" y="1285"/><text class="gl" x="938" y="1332">PDPK1</text></g>
<g id="n-MAPK8"><use href="#mB" x="1116" y="1301"/><text class="gl" x="1116" y="1348">MAPK8</text></g>
<g id="n-PPP2CA"><use href="#mA" x="734" y="1315"/><text class="gl" x="734" y="1362">PPP2CA</text></g>
<g id="n-ITGAV"><use href="#mA" x="1747" y="1315"/><text class="gl" x="1747" y="1362">ITGAV</text></g>
<g id="n-PTPN1"><use href="#mD" x="584" y="1377"/><text class="gl" x="584" y="1424">PTPN1</text></g>
<g id="n-AKT2"><use href="#mC" x="1052" y="1361"/><text class="gl" x="1052" y="1408">AKT2</text></g>
<g id="n-ESR1"><use href="#mD" x="1533" y="1358"/><text class="gl" x="1533" y="1405">ESR1</text></g>
<g id="n-GSK3B"><use href="#mC" x="1345" y="1385"/><text class="gl" x="1345" y="1432">GSK3B</text></g>
<g id="n-ESR2"><use href="#mD" x="1918" y="1391"/><text class="gl" x="1918" y="1438">ESR2</text></g>
<g id="n-RPS6KB1"><use href="#mB" x="809" y="1389"/><text class="gl" x="809" y="1436">RPS6KB1</text></g>
<g id="n-SRC"><use href="#mC" x="1176" y="1394"/><text class="gl" x="1176" y="1441">SRC</text></g>
<g id="n-MMP2"><use href="#mA" x="1642" y="1432"/><text class="gl" x="1642" y="1479">MMP2</text></g>
<g id="n-JAK3"><use href="#mB" x="1245" y="1443"/><text class="gl" x="1245" y="1490">JAK3</text></g>
<g id="n-ABL1"><use href="#mB" x="842" y="1456"/><text class="gl" x="842" y="1503">ABL1</text></g>
<g id="n-CYP17A1"><use href="#m4y" x="1847" y="1471"/><text class="gl" x="1847" y="1518">CYP17A1</text></g>
<g id="n-PRKCA"><use href="#mC" x="1000" y="1471"/><text class="gl" x="1000" y="1518">PRKCA</text></g>
<g id="n-VEGFA"><use href="#mA" x="533" y="1508"/><text class="gl" x="533" y="1555">VEGFA</text></g>
<g id="n-ITK"><use href="#m2t" x="1411" y="1508"/><text class="gl" x="1411" y="1555">ITK</text></g>
<g id="n-RXRG"><use href="#mD" x="1601" y="1498"/><text class="gl" x="1601" y="1545">RXRG</text></g>
<g id="n-INSR"><use href="#mA" x="1074" y="1546"/><text class="gl" x="1074" y="1593">INSR</text></g>
<g id="n-MAPK1"><use href="#mC" x="1233" y="1530"/><text class="gl" x="1233" y="1577">MAPK1</text></g>
<g id="n-ITGB3"><use href="#mA" x="940" y="1585"/><text class="gl" x="940" y="1632">ITGB3</text></g>
<g id="n-JAK2"><use href="#mC" x="1516" y="1590"/><text class="gl" x="1516" y="1637">JAK2</text></g>
<g id="n-RXRB"><use href="#mB" x="1636" y="1627"/><text class="gl" x="1636" y="1674">RXRB</text></g>
<g id="n-RXRA"><use href="#mA" x="1366" y="1608"/><text class="gl" x="1366" y="1655">RXRA</text></g>
<g id="n-PIK3CB"><use href="#mB" x="1179" y="1630"/><text class="gl" x="1179" y="1677">PIK3CB</text></g>
<g id="n-PPARG"><use href="#mD" x="778" y="1631"/><text class="gl" x="778" y="1678">PPARG</text></g>
<g id="n-ROCK2"><use href="#mC" x="1742" y="1682"/><text class="gl" x="1742" y="1729">ROCK2</text></g>
<g id="n-CCR5"><use href="#mD" x="1896" y="1693"/><text class="gl" x="1896" y="1740">CCR5</text></g>
<g id="n-CPT1A"><use href="#m3c" x="528" y="1698"/><text class="gl" x="528" y="1745">CPT1A</text></g>
<g id="n-PPARA"><use href="#mP" x="1392" y="1714"/><text class="gl" x="1392" y="1761">PPARA</text></g>
<g id="n-CFTR"><use href="#m3f" x="869" y="1729"/><text class="gl" x="869" y="1776">CFTR</text></g>
<g id="n-HDAC2"><use href="#mD" x="987" y="1774"/><text class="gl" x="987" y="1821">HDAC2</text></g>
<g id="n-EDNRA"><use href="#m3e" x="1188" y="1772"/><text class="gl" x="1188" y="1819">EDNRA</text></g>
<g id="n-HMGCR"><use href="#m2c" x="625" y="1793"/><text class="gl" x="625" y="1840">HMGCR</text></g>
<g id="n-NCOA2"><use href="#mQ" x="1549" y="1824"/><text class="gl" x="1549" y="1871">NCOA2</text></g>
<g id="n-HDAC1"><use href="#mD" x="1100" y="1873"/><text class="gl" x="1100" y="1920">HDAC1</text></g>
<g id="n-CCNA2"><use href="#mD" x="734" y="1886"/><text class="gl" x="734" y="1933">CCNA2</text></g>
<g id="n-PGR"><use href="#mB" x="1378" y="1903"/><text class="gl" x="1378" y="1950">PGR</text></g>
<g id="n-HDAC3"><use href="#mH" x="1055" y="1990"/><text class="gl" x="1055" y="2037">HDAC3</text></g>
<g id="n-FABP4"><use href="#m3g" x="1532" y="1986"/><text class="gl" x="1532" y="2033">FABP4</text></g>
<g id="n-FABP1"><use href="#m2o" x="1290" y="2065"/><text class="gl" x="1290" y="2112">FABP1</text></g>
</g>
</svg>
